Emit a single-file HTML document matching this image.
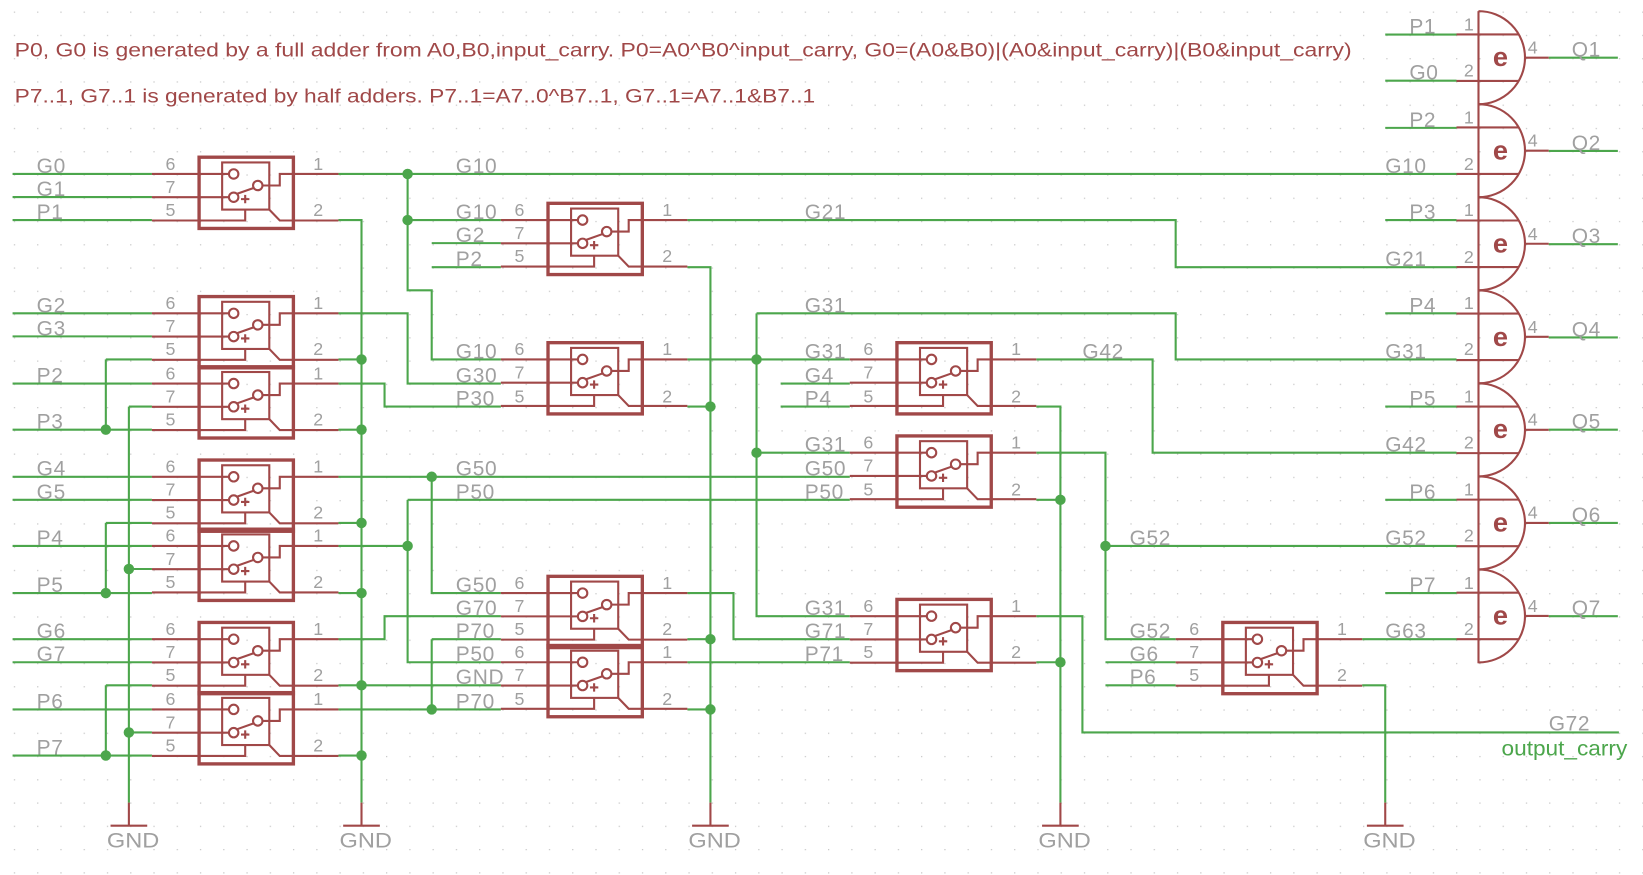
<!DOCTYPE html>
<html><head><meta charset="utf-8"><style>
html,body{margin:0;padding:0;background:#fff;overflow:hidden}
svg{display:block}
text{font-family:"Liberation Sans",sans-serif}
.w{stroke:#4ca64c;stroke-width:2;fill:none}
.r{stroke:#a04848;stroke-width:2;fill:none}
.lb{fill:#a0a0a0;font-size:20px;letter-spacing:0.6px}
.pn{fill:#a0a0a0;font-size:17px}
.d{fill:#4ca64c}
</style></head><body>
<svg width="1643" height="875" viewBox="0 0 1568 835" xmlns="http://www.w3.org/2000/svg">
<defs>
<pattern id="grid" x="13.2" y="11" width="22.2" height="22.2" patternUnits="userSpaceOnUse">
<rect x="0" y="0" width="1.2" height="1.2" fill="#c8c8c8"/>
</pattern>
<g id="cell">
<path class="r" d="M-45,0H29M-45,22.2H29M-45,44.4H44V34"/>
<rect x="0" y="-16" width="90" height="68" fill="none" stroke="#a04848" stroke-width="3.2"/>
<rect x="22" y="-11" width="45" height="45" class="r"/>
<circle cx="33" cy="0" r="4.5" class="r" stroke-width="2.5"/>
<circle cx="33" cy="22.2" r="4.5" class="r" stroke-width="2.5"/>
<circle cx="56" cy="11" r="4.5" class="r" stroke-width="2.5"/>
<path class="r" d="M36,19L53,13M60,11H77V0H133M67,34L77,44.4H133"/>
<path class="r" stroke-width="1" d="M40,24h8M44,20v8"/>
</g>
<g id="gate">
<path class="r" stroke-width="3.5" d="M1411,-22.2A44.4,44.4 0 0 1 1411,66.6"/>
<path class="r" d="M1390,0H1449.5M1390,44.4H1449.5M1455.4,22.2H1478"/>
</g>
</defs>
<rect width="1568" height="835" fill="#fff"/>
<rect width="1568" height="835" fill="url(#grid)"/>

<text x="14" y="54" fill="#a04848" font-size="18.5" textLength="1276" lengthAdjust="spacingAndGlyphs">P0, G0 is generated by a full adder from A0,B0,input_carry.  P0=A0^B0^input_carry, G0=(A0&amp;B0)|(A0&amp;input_carry)|(B0&amp;input_carry)</text>
<text x="14" y="98" fill="#a04848" font-size="18.5" textLength="764" lengthAdjust="spacingAndGlyphs">P7..1, G7..1 is generated by half adders. P7..1=A7..0^B7..1, G7..1=A7..1&amp;B7..1</text>

<!-- wires -->
<path class="w" d="M12,166H145M12,188H145M12,210H145M12,299H145M12,321H145M12,366H145M12,410H145M12,455H145M12,477H145M12,521H145M12,566H145M12,610H145M12,632H145M12,677H145M12,721H145
M101,343H145M101,343V410M123,388H145M123,388V766M101,499H145M101,499V566M123,543H145M101,654H145M101,654V721M123,699H145
M323,166H1390M389,166V277H412V343H478M389,210H478
M323,210H345V766M323,299H389V366H478M323,343H345M323,366H367V388H478M323,410H345
M323,455H811M412,455V566H478M323,499H345M323,521H389M389,477H811M389,477V632H478M323,566H345
M323,610H367V588H478M323,654H478M323,677H478M412,610V677M412,610H478M323,721H345
M412,232H478M412,255H478
M656,210H1122V255H1390M656,255H678V766M656,343H811M656,388H678M656,566H700V610H811M656,610H678M656,632H811M656,677H678
M722,299V588H811M722,299H1122V343H1390M722,432H811M745,366H811M745,388H811
M989,343H1100V432H1390M989,388H1012V766M989,432H1055V610H1122M1055,521H1390M989,477H1012M989,588H1033V699H1545M989,632H1012
M1055,632H1122M1055,654H1122M1300,610H1390M1300,654H1322V766
M1322,33H1390M1322,77H1390M1322,122H1390M1322,210H1390M1322,299H1390M1322,388H1390M1322,477H1390M1322,566H1390
M1478,55H1544M1478,144H1544M1478,233H1544M1478,322H1544M1478,410H1544M1478,499H1544M1478,588H1544"/>

<!-- junction dots -->
<g class="d">
<circle cx="101" cy="410" r="5"/><circle cx="101" cy="566" r="5"/><circle cx="101" cy="721" r="5"/>
<circle cx="123" cy="543" r="5"/><circle cx="123" cy="699" r="5"/>
<circle cx="345" cy="343" r="5"/><circle cx="345" cy="410" r="5"/><circle cx="345" cy="499" r="5"/><circle cx="345" cy="566" r="5"/><circle cx="345" cy="654" r="5"/><circle cx="345" cy="721" r="5"/>
<circle cx="389" cy="166" r="5"/><circle cx="389" cy="210" r="5"/><circle cx="389" cy="521" r="5"/>
<circle cx="412" cy="455" r="5"/><circle cx="412" cy="677" r="5"/>
<circle cx="678" cy="388" r="5"/><circle cx="678" cy="610" r="5"/><circle cx="678" cy="677" r="5"/>
<circle cx="722" cy="343" r="5"/><circle cx="722" cy="432" r="5"/>
<circle cx="1012" cy="477" r="5"/><circle cx="1012" cy="632" r="5"/>
<circle cx="1055" cy="521" r="5"/>
</g>

<!-- cells -->
<use href="#cell" x="190" y="166"/><use href="#cell" x="190" y="299"/><use href="#cell" x="190" y="366"/>
<use href="#cell" x="190" y="455"/><use href="#cell" x="190" y="521"/><use href="#cell" x="190" y="610"/><use href="#cell" x="190" y="677"/>
<use href="#cell" x="523" y="210"/><use href="#cell" x="523" y="343"/><use href="#cell" x="523" y="566"/><use href="#cell" x="523" y="632"/>
<use href="#cell" x="856" y="343"/><use href="#cell" x="856" y="432"/><use href="#cell" x="856" y="588"/>
<use href="#cell" x="1167" y="610"/>

<!-- pin numbers for cells -->
<g class="pn">
<text x="158" y="162">6</text><text x="158" y="184">7</text><text x="158" y="206">5</text><text x="299" y="162">1</text><text x="299" y="206">2</text>
<text x="158" y="295">6</text><text x="158" y="317">7</text><text x="158" y="339">5</text><text x="299" y="295">1</text><text x="299" y="339">2</text>
<text x="158" y="362">6</text><text x="158" y="384">7</text><text x="158" y="406">5</text><text x="299" y="362">1</text><text x="299" y="406">2</text>
<text x="158" y="451">6</text><text x="158" y="473">7</text><text x="158" y="495">5</text><text x="299" y="451">1</text><text x="299" y="495">2</text>
<text x="158" y="517">6</text><text x="158" y="539">7</text><text x="158" y="561">5</text><text x="299" y="517">1</text><text x="299" y="561">2</text>
<text x="158" y="606">6</text><text x="158" y="628">7</text><text x="158" y="650">5</text><text x="299" y="606">1</text><text x="299" y="650">2</text>
<text x="158" y="673">6</text><text x="158" y="695">7</text><text x="158" y="717">5</text><text x="299" y="673">1</text><text x="299" y="717">2</text>
<text x="491" y="206">6</text><text x="491" y="228">7</text><text x="491" y="250">5</text><text x="632" y="206">1</text><text x="632" y="250">2</text>
<text x="491" y="339">6</text><text x="491" y="361">7</text><text x="491" y="384">5</text><text x="632" y="339">1</text><text x="632" y="384">2</text>
<text x="491" y="562">6</text><text x="491" y="584">7</text><text x="491" y="606">5</text><text x="632" y="562">1</text><text x="632" y="606">2</text>
<text x="491" y="628">6</text><text x="491" y="650">7</text><text x="491" y="673">5</text><text x="632" y="628">1</text><text x="632" y="673">2</text>
<text x="824" y="339">6</text><text x="824" y="361">7</text><text x="824" y="384">5</text><text x="965" y="339">1</text><text x="965" y="384">2</text>
<text x="824" y="428">6</text><text x="824" y="450">7</text><text x="824" y="473">5</text><text x="965" y="428">1</text><text x="965" y="473">2</text>
<text x="824" y="584">6</text><text x="824" y="606">7</text><text x="824" y="628">5</text><text x="965" y="584">1</text><text x="965" y="628">2</text>
<text x="1135" y="606">6</text><text x="1135" y="628">7</text><text x="1135" y="650">5</text><text x="1276" y="606">1</text><text x="1276" y="650">2</text>
</g>

<!-- net labels -->
<g class="lb">
<text x="35" y="165">G0</text><text x="35" y="187">G1</text><text x="35" y="209">P1</text>
<text x="35" y="298">G2</text><text x="35" y="320">G3</text><text x="35" y="365">P2</text><text x="35" y="409">P3</text>
<text x="35" y="454">G4</text><text x="35" y="476">G5</text><text x="35" y="520">P4</text><text x="35" y="565">P5</text>
<text x="35" y="609">G6</text><text x="35" y="631">G7</text><text x="35" y="676">P6</text><text x="35" y="720">P7</text>
<text x="435" y="165">G10</text><text x="435" y="209">G10</text><text x="435" y="231">G2</text><text x="435" y="254">P2</text>
<text x="435" y="342">G10</text><text x="435" y="365">G30</text><text x="435" y="387">P30</text>
<text x="435" y="454">G50</text><text x="435" y="476">P50</text>
<text x="435" y="565">G50</text><text x="435" y="587">G70</text><text x="435" y="609">P70</text><text x="435" y="631">P50</text><text x="435" y="653">GND</text><text x="435" y="676">P70</text>
<text x="768" y="209">G21</text><text x="768" y="298">G31</text>
<text x="768" y="342">G31</text><text x="768" y="365">G4</text><text x="768" y="387">P4</text>
<text x="768" y="431">G31</text><text x="768" y="454">G50</text><text x="768" y="476">P50</text>
<text x="768" y="587">G31</text><text x="768" y="609">G71</text><text x="768" y="631">P71</text>
<text x="1033" y="342">G42</text><text x="1078" y="520">G52</text>
<text x="1078" y="609">G52</text><text x="1078" y="631">G6</text><text x="1078" y="653">P6</text>
<text x="1345" y="32">P1</text><text x="1345" y="76">G0</text>
<text x="1345" y="121">P2</text><text x="1322" y="165">G10</text>
<text x="1345" y="209">P3</text><text x="1322" y="254">G21</text>
<text x="1345" y="298">P4</text><text x="1322" y="342">G31</text>
<text x="1345" y="387">P5</text><text x="1322" y="431">G42</text>
<text x="1345" y="476">P6</text><text x="1322" y="520">G52</text>
<text x="1345" y="565">P7</text><text x="1322" y="609">G63</text>
<text x="1500" y="54">Q1</text><text x="1500" y="143">Q2</text><text x="1500" y="232">Q3</text><text x="1500" y="321">Q4</text><text x="1500" y="409">Q5</text><text x="1500" y="498">Q6</text><text x="1500" y="587">Q7</text>
<text x="1478" y="697">G72</text>
</g>
<text x="1433" y="721" fill="#4ca64c" font-size="20" textLength="120" lengthAdjust="spacingAndGlyphs">output_carry</text>

<!-- gates -->
<use href="#gate" y="32.8"/><use href="#gate" y="121.6"/><use href="#gate" y="210.4"/><use href="#gate" y="299.2"/><use href="#gate" y="388"/><use href="#gate" y="476.8"/><use href="#gate" y="565.6"/>
<path class="r" stroke-width="4" d="M1411,10.6V633"/>
<g fill="#a04848" font-size="26" font-weight="bold" text-anchor="middle">
<text x="1432" y="63">e</text><text x="1432" y="152">e</text><text x="1432" y="241">e</text><text x="1432" y="330">e</text><text x="1432" y="418">e</text><text x="1432" y="507">e</text><text x="1432" y="596">e</text>
</g>
<g class="pn">
<text x="1397" y="29">1</text><text x="1397" y="73">2</text><text x="1458" y="51">4</text>
<text x="1397" y="118">1</text><text x="1397" y="162">2</text><text x="1458" y="140">4</text>
<text x="1397" y="206">1</text><text x="1397" y="251">2</text><text x="1458" y="229">4</text>
<text x="1397" y="295">1</text><text x="1397" y="339">2</text><text x="1458" y="318">4</text>
<text x="1397" y="384">1</text><text x="1397" y="428">2</text><text x="1458" y="406">4</text>
<text x="1397" y="473">1</text><text x="1397" y="517">2</text><text x="1458" y="495">4</text>
<text x="1397" y="562">1</text><text x="1397" y="606">2</text><text x="1458" y="584">4</text>
</g>

<!-- GND symbols -->
<path class="r" d="M123,766V788M345,766V788M678,766V788M1012,766V788M1322,766V788"/>
<path class="r" stroke-width="3.5" d="M105.5,788H140.5M327.5,788H362.5M660.5,788H695.5M994.5,788H1029.5M1304.5,788H1339.5"/>
<g fill="#a0a0a0" font-size="20">
<text x="102" y="809" textLength="50" lengthAdjust="spacingAndGlyphs">GND</text><text x="324" y="809" textLength="50" lengthAdjust="spacingAndGlyphs">GND</text><text x="657" y="809" textLength="50" lengthAdjust="spacingAndGlyphs">GND</text><text x="991" y="809" textLength="50" lengthAdjust="spacingAndGlyphs">GND</text><text x="1301" y="809" textLength="50" lengthAdjust="spacingAndGlyphs">GND</text>
</g>
</svg>
</body></html>
